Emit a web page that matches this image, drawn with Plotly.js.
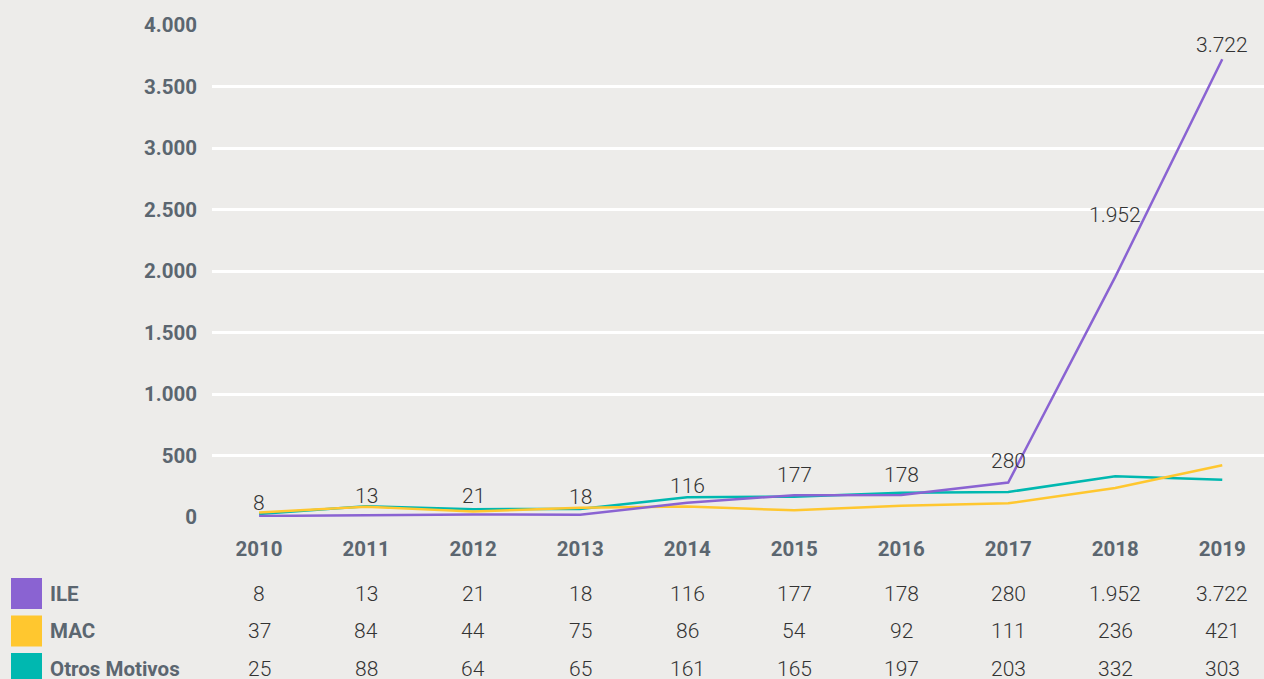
<!DOCTYPE html>
<html><head><meta charset="utf-8">
<script src="https://cdn.plot.ly/plotly-3.0.1.min.js"></script>
<style>html,body{margin:0;padding:0;background:#EDECEA;}#c{width:1264px;height:679px;}</style>
</head><body><div id="c"></div>
<script>
const years = [2010,2011,2012,2013,2014,2015,2016,2017,2018,2019];
const ile = [8,13,21,18,116,177,178,280,1952,3722];
const mac = [37,84,44,75,86,54,92,111,236,421];
const otros = [25,88,64,65,161,165,197,203,332,303];
const seriesNames = ['ILE','MAC','Otros Motivos'];
const seriesColors = ['#8A63D2','#FFC72F','#00B8B0'];
const seriesData = [ile, mac, otros];
const yTicks = [0,500,1000,1500,2000,2500,3000,3500,4000];

const fmt = v => v.toString().replace(/\B(?=(\d{3})+(?!\d))/g, '.');

const traces = [otros, mac, ile].map((d, k) => {
  const i = 2 - k;
  return {x: years, y: d, type: 'scatter', mode: 'lines', name: seriesNames[i],
    line: {color: seriesColors[i], width: 2.5},
    hoverinfo: 'skip', showlegend: false};
});

const valFont = {family: 'Roboto', size: 21, color: '#333333', weight: 300};
const boldFont = {family: 'Roboto', size: 20.5, color: '#5B6670', weight: 'bold'};
// pixel offsets of the ILE data labels above their points
const labelShift = [13, 19, 18, 18, 17, 20, 20, 22, 62, 14];
const annotations = [];
ile.forEach((v, j) => {
  annotations.push({x: years[j], y: v, xref: 'x', yref: 'y', text: fmt(v), showarrow: false,
    yanchor: 'middle', yshift: labelShift[j], font: valFont});
});
const rowY = [-0.157, -0.2325, -0.308];
const shapes = [];
seriesData.forEach((d, i) => {
  annotations.push({x: (48-212)/1052, y: rowY[i], xref: 'paper', yref: 'paper', text: '<b>' + seriesNames[i] + '</b>',
    showarrow: false, xanchor: 'left', yanchor: 'middle', font: boldFont});
  d.forEach((v, j) => {
    annotations.push({x: years[j], y: rowY[i], xref: 'x', yref: 'paper', text: fmt(v), showarrow: false,
      xanchor: 'center', yanchor: 'middle', font: valFont});
  });
  shapes.push({type: 'rect', xref: 'paper', yref: 'paper',
    x0: (11-212)/1052, x1: (42-212)/1052,
    y0: (517-(578+37.5*i))/492, y1: (517-(609+37.5*i))/492,
    fillcolor: seriesColors[i], line: {width: 0}, layer: 'above'});
});

const layout = {
  width: 1264, height: 679,
  margin: {l: 212, r: 0, t: 25, b: 162},
  paper_bgcolor: '#EDECEA', plot_bgcolor: '#EDECEA',
  xaxis: {range: [2009.56, 2019.39], tickvals: years, ticktext: years.map(String),
    showgrid: false, zeroline: false, showline: false, ticks: '',
    tickfont: boldFont, ticklabelstandoff: 17},
  yaxis: {range: [0, 4000], tickvals: yTicks, ticktext: yTicks.map(fmt),
    showgrid: true, gridcolor: '#FFFFFF', gridwidth: 3, zeroline: false, showline: false, ticks: '',
    tickfont: boldFont, ticklabelstandoff: 14},
  annotations: annotations, shapes: shapes,
  showlegend: false
};
Plotly.newPlot('c', traces, layout, {displayModeBar: false, staticPlot: true});
</script></body></html>
